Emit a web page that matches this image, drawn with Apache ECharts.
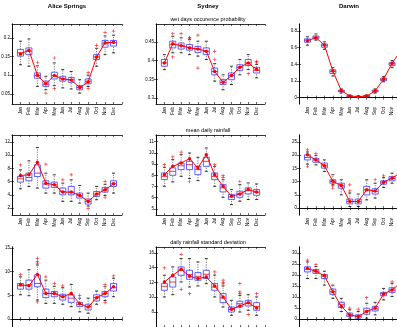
<!DOCTYPE html>
<html lang="en">
<head>
<meta charset="UTF-8">
<style>
    html, body { margin: 0; background: #fff; overflow: hidden; }
    #chart { width: 397px; height: 327px; }
</style>
</head>
<body>
<div id="chart"></div>
<script src="https://cdn.jsdelivr.net/npm/echarts@6/dist/echarts.min.js"></script>
<script>
    var months = ['Jan','Feb','Mar','Apr','May','Jun','Jul','Aug','Sep','Oct','Nov','Dec'];
    var stations = ['Alice Springs', 'Sydney', 'Darwin'];
    var statNames = ['wet days occurence probability', 'mean daily rainfall', 'daily rainfall standard deviation'];

    // box rows: [low whisker, q1, median, q3, high whisker]
    var aliceWetBox = [[0.128,0.151,0.160,0.169,0.191],[0.124,0.155,0.164,0.173,0.197],[0.070,0.092,0.099,0.106,0.125],[0.061,0.070,0.076,0.084,0.097],[0.072,0.090,0.099,0.108,0.133],[0.066,0.084,0.091,0.097,0.115],[0.063,0.081,0.088,0.094,0.110],[0.052,0.061,0.067,0.072,0.088],[0.070,0.077,0.084,0.090,0.100],[0.124,0.142,0.149,0.155,0.172],[0.155,0.175,0.184,0.193,0.205],[0.160,0.178,0.187,0.193,0.207]];
    var aliceWetObs = [0.157,0.167,0.100,0.077,0.099,0.090,0.087,0.067,0.082,0.149,0.187,0.188];
    var aliceWetOut = [[2,0.134],[3,0.052],[4,0.146],[4,0.064],[8,0.107],[8,0.064],[9,0.180],[10,0.214],[11,0.218]];

    var sydneyWetBox = [[0.376,0.385,0.394,0.403,0.416],[0.421,0.434,0.443,0.452,0.465],[0.421,0.431,0.440,0.447,0.461],[0.416,0.428,0.436,0.443,0.456],[0.412,0.422,0.431,0.438,0.452],[0.403,0.416,0.425,0.434,0.452],[0.345,0.362,0.371,0.380,0.392],[0.322,0.336,0.342,0.349,0.362],[0.336,0.349,0.360,0.367,0.385],[0.362,0.374,0.382,0.389,0.403],[0.376,0.387,0.394,0.403,0.416],[0.354,0.367,0.374,0.382,0.390]];
    var sydneyWetObs = [0.394,0.445,0.440,0.434,0.431,0.425,0.371,0.342,0.360,0.382,0.394,0.376];
    var sydneyWetOut = [[1,0.472],[1,0.410],[2,0.472],[3,0.462],[3,0.460],[4,0.468],[4,0.380],[6,0.425],[6,0.403],[10,0.365],[11,0.398],[11,0.396]];

    var darwinWetBox = [[0.63,0.665,0.69,0.705,0.73],[0.69,0.705,0.725,0.74,0.765],[0.58,0.605,0.625,0.645,0.67],[0.26,0.29,0.315,0.335,0.36],[0.055,0.07,0.08,0.09,0.105],[0.006,0.012,0.018,0.024,0.03],[0.004,0.008,0.012,0.016,0.022],[0.008,0.014,0.02,0.026,0.032],[0.055,0.07,0.08,0.09,0.105],[0.19,0.205,0.22,0.235,0.255],[0.36,0.385,0.405,0.42,0.445],[0.51,0.54,0.56,0.58,0.61]];
    var darwinWetObs = [0.684,0.72,0.632,0.32,0.084,0.02,0.012,0.02,0.08,0.224,0.412,0.56];
    var darwinWetOut = [];

    var aliceMeanBox = [[4.91,5.92,6.42,6.77,7.78],[5.27,6.12,6.62,7.28,9.14],[5.02,6.77,7.28,8.53,11.15],[4.26,5.02,5.62,6.12,7.28],[4.26,5.12,5.52,5.92,7.03],[3.01,4.01,4.51,5.02,5.77],[3.01,4.01,4.41,5.27,6.27],[2.75,3.51,3.91,4.26,5.42],[2.30,2.60,3.01,3.36,4.26],[3.26,3.76,4.11,4.51,5.27],[3.90,4.41,4.76,5.12,5.60],[4.26,5.27,5.67,6.12,7.28]];
    var aliceMeanObs = [6.92,7.03,8.93,5.77,5.52,4.41,4.41,3.91,3.01,4.11,4.76,5.67];
    var aliceMeanOut = [[0,8.53],[3,8.63],[5,6.27],[6,7.03],[8,1.95],[10,6.0],[10,3.6]];

    var sydneyMeanBox = [[7.02,7.62,7.91,8.21,8.72],[7.41,8.00,8.36,8.66,9.40],[7.91,8.51,8.86,9.10,9.84],[7.71,8.51,8.95,9.25,9.99],[7.53,8.06,8.51,8.80,9.61],[8.36,8.80,9.25,9.61,10.44],[7.02,7.62,7.91,8.21,8.80],[6.04,6.52,6.88,7.17,7.60],[5.39,5.84,6.07,6.28,6.73],[5.69,6.04,6.34,6.58,7.17],[5.84,6.34,6.64,6.88,7.32],[5.84,6.22,6.49,6.73,7.23]];
    var sydneyMeanObs = [8.06,8.80,9.10,9.49,8.66,9.84,8.06,7.02,6.13,6.34,6.73,6.52];
    var sydneyMeanOut = [[0,8.95],[1,9.64],[2,10.08],[3,7.45],[6,8.95],[7,7.97],[7,7.80],[9,7.45]];

    var darwinMeanBox = [[16.6,18.2,19.1,20.1,21.2],[16.3,17.3,18.2,18.8,19.8],[13.8,15.1,16.0,17.0,18.2],[8.8,9.4,10.1,10.7,12.6],[5.0,7.5,8.4,9.4,10.7],[0.6,1.6,2.5,3.4,5.7],[0.6,1.6,2.5,3.4,5.3],[3.1,5.0,6.9,8.2,10.7],[3.8,5.3,6.3,7.3,9.4],[7.8,9.0,9.8,10.3,11.5],[9.4,10.3,11.2,11.9,13.2],[11.2,12.5,13.3,14.2,15.5]];
    var darwinMeanObs = [20.1,18.2,16.0,10.1,8.5,2.5,2.5,6.9,6.5,9.8,11.3,13.5];
    var darwinMeanOut = [[0,22.0],[0,15.7],[1,20.6],[3,8.4],[3,7.5],[5,8.8],[5,6.5],[8,10.7],[9,12.2]];

    var aliceSdBox = [[5.1,6.3,7.0,7.5,8.9],[4.9,6.3,7.2,8.2,10.4],[4.0,6.8,7.5,9.3,11.4],[3.3,4.5,5.4,6.3,8.2],[3.3,4.7,5.3,5.8,6.9],[3.1,4.0,4.7,5.2,6.6],[2.6,3.5,4.4,5.1,7.3],[1.5,2.6,3.1,3.5,4.4],[1.2,1.9,2.6,3.1,4.4],[3.1,3.8,4.5,5.1,5.9],[3.9,4.7,5.4,5.8,6.8],[4.7,5.9,6.6,7.5,8.6]];
    var aliceSdObs = [7.2,7.0,9.4,5.4,5.4,4.7,5.4,3.2,2.5,4.5,5.4,6.8];
    var aliceSdOut = [[0,9.4],[2,12.8],[2,12.1],[2,11.8],[2,3.6],[3,8.9],[4,7.5],[5,7.0],[7,5.0],[10,7.3],[10,3.5],[11,9.1]];

    var sydneySdBox = [[10.03,10.93,11.48,11.84,12.97],[10.34,11.38,12.06,12.74,14.10],[12.06,12.97,13.65,14.10,15.23],[11.38,12.43,13.06,13.65,15.23],[11.52,12.29,12.83,13.33,14.78],[11.84,12.52,13.10,13.65,15.23],[10.03,10.93,11.38,11.84,13.00],[8.67,9.26,9.89,10.48,11.52],[7.54,7.99,8.35,8.67,9.57],[7.99,8.67,9.12,9.44,10.25],[8.22,8.81,9.21,9.57,10.34],[7.54,8.22,8.76,9.26,10.03]];
    var sydneySdObs = [12.06,12.97,13.78,12.83,12.52,12.74,11.52,10.03,8.35,8.81,9.26,8.53];
    var sydneySdOut = [[0,13.96],[2,15.77],[2,11.07],[3,10.48],[6,13.42],[7,12.3],[7,12.0],[7,11.8],[9,11.84],[9,10.71],[9,10.48],[10,7.67],[11,10.48]];

    var darwinSdBox = [[18.4,21.4,22.6,23.7,25.9],[18.4,20.7,21.7,22.5,23.8],[15.4,18.4,19.5,20.2,21.7],[9.4,11.2,12.4,13.6,15.4],[3.4,5.2,6.7,7.6,9.4],[0.4,1.2,1.9,2.7,4.2],[0,0.4,1.2,1.9,3.4],[0.4,2.2,3.7,4.9,7.2],[1.9,3.7,4.6,5.7,7.6],[8.7,10.6,11.5,12.1,13.9],[10.2,12.1,13.2,14.2,16.2],[13.5,15.5,16.3,17.2,19.0]];
    var darwinSdObs = [22.9,21.7,19.6,12.4,5.7,1.9,1.2,3.4,5.0,11.4,13.2,16.5];
    var darwinSdOut = [[0,26.7],[1,24.7],[5,5.0],[6,4.5],[7,9.7],[10,16.9]];

    // y extents and tick labels per panel (row by row)
    var yRanges = [[0.023,0.237],[0.284,0.498],[-0.076,0.884],
                   [0.95,13.05],[4.46,11.6],[-2.6,27.6],
                   [-1.7,15.2],[5.96,16.8],[-3.6,32.7]];
    var yTicks = [[0.05,0.1,0.15,0.2],[0.3,0.35,0.4,0.45],[0,0.2,0.4,0.6,0.8],
                  [2,4,6,8,10,12],[5,6,7,8,9,10,11],[0,5,10,15,20,25],
                  [0,5,10,15],[8,10,12,14,16],[0,5,10,15,20,25,30]];

    var panels = [
        [aliceWetBox, aliceWetObs, aliceWetOut], [sydneyWetBox, sydneyWetObs, sydneyWetOut], [darwinWetBox, darwinWetObs, darwinWetOut],
        [aliceMeanBox, aliceMeanObs, aliceMeanOut], [sydneyMeanBox, sydneyMeanObs, sydneyMeanOut], [darwinMeanBox, darwinMeanObs, darwinMeanOut],
        [aliceSdBox, aliceSdObs, aliceSdOut], [sydneySdBox, sydneySdObs, sydneySdOut], [darwinSdBox, darwinSdObs, darwinSdOut]
    ];

    var colLeft = [12, 156, 299], colWidth = [110, 109, 110];
    var rowTop = [24, 135, 247], rowHeight = 80;
    var titleX = [67, 208, 349];
    var font = 'Liberation Sans';
    var plus = 'path://M4,0H6V10H4Z M0,4H10V6H0Z';

    function renderBox(params, api) {
        var x = api.value(0);
        var lo = api.coord([x, api.value(1)]);
        var q1 = api.coord([x, api.value(2)]);
        var md = api.coord([x, api.value(3)]);
        var q3 = api.coord([x, api.value(4)]);
        var hi = api.coord([x, api.value(5)]);
        var w = 3, c = 1.5;
        var dash = {stroke: '#222', lineWidth: 0.6, lineDash: [1.2, 1.2]};
        var cap = {stroke: '#000', lineWidth: 0.8};
        return {
            type: 'group',
            children: [
                {type: 'line', shape: {x1: lo[0], y1: lo[1], x2: q1[0], y2: q1[1]}, style: dash},
                {type: 'line', shape: {x1: q3[0], y1: q3[1], x2: hi[0], y2: hi[1]}, style: dash},
                {type: 'line', shape: {x1: lo[0] - c, y1: lo[1], x2: lo[0] + c, y2: lo[1]}, style: cap},
                {type: 'line', shape: {x1: hi[0] - c, y1: hi[1], x2: hi[0] + c, y2: hi[1]}, style: cap},
                {type: 'rect', shape: {x: q3[0] - w, y: q3[1], width: 2 * w, height: q1[1] - q3[1]},
                    style: {fill: 'none', stroke: '#3a3aff', lineWidth: 0.8}},
                {type: 'line', shape: {x1: md[0] - w, y1: md[1], x2: md[0] + w, y2: md[1]},
                    style: {stroke: '#ff0000', lineWidth: 0.8}}
            ]
        };
    }

    var grid = [], xAxis = [], yAxis = [], series = [], title = [];

    stations.forEach(function (s, c) {
        title.push({text: s, left: titleX[c], top: 3, textAlign: 'center', padding: 0,
            textStyle: {fontFamily: font, fontSize: 6, fontWeight: 'bold', color: '#000'}});
    });
    statNames.forEach(function (s, r) {
        title.push({text: s, left: titleX[1], top: rowTop[r] - 8, textAlign: 'center', padding: 0,
            textStyle: {fontFamily: font, fontSize: 5.5, fontWeight: 'normal', color: '#000'}});
    });

    panels.forEach(function (p, i) {
        var r = Math.floor(i / 3), c = i % 3;
        grid.push({left: colLeft[c], top: rowTop[r], width: colWidth[c], height: rowHeight,
            containLabel: false, outerBoundsMode: 'none'});
        var axLine = {show: true, lineStyle: {color: '#000', width: 0.8}};
        var tick = {show: true, inside: true, length: 2, lineStyle: {color: '#000', width: 0.6}};
        xAxis.push({type: 'value', gridIndex: i, min: 0, max: 13, interval: 1, position: 'bottom',
            axisLine: axLine, axisTick: tick, splitLine: {show: false},
            axisLabel: {rotate: 90, margin: 3, fontSize: 4.5, fontFamily: font, color: '#000',
                formatter: function (v) { return months[v - 1] || ''; }}});
        xAxis.push({type: 'value', gridIndex: i, min: 0, max: 13, interval: 1, position: 'top',
            axisLine: axLine, axisTick: tick, splitLine: {show: false}, axisLabel: {show: false}});
        yAxis.push({type: 'value', gridIndex: i, min: yRanges[i][0], max: yRanges[i][1], position: 'left',
            axisLine: axLine, splitLine: {show: false},
            axisTick: Object.assign({customValues: yTicks[i]}, tick),
            axisLabel: {customValues: yTicks[i], margin: 2, fontSize: 4.5, fontFamily: font, color: '#000'}});
        yAxis.push({type: 'value', gridIndex: i, min: yRanges[i][0], max: yRanges[i][1], position: 'right',
            axisLine: axLine, splitLine: {show: false},
            axisTick: Object.assign({customValues: yTicks[i]}, tick),
            axisLabel: {show: false}});

        series.push({type: 'custom', xAxisIndex: 2 * i, yAxisIndex: 2 * i, renderItem: renderBox,
            encode: {x: 0, y: [1, 2, 3, 4, 5]},
            data: p[0].map(function (b, k) { return [k + 1].concat(b); })});
        series.push({type: 'scatter', xAxisIndex: 2 * i, yAxisIndex: 2 * i, symbol: plus, symbolSize: 3.5,
            itemStyle: {color: '#ff0000'}, z: 3,
            data: p[2].map(function (o) { return [o[0] + 1, o[1]]; })});
        series.push({type: 'line', xAxisIndex: 2 * i, yAxisIndex: 2 * i, symbol: 'circle', symbolSize: 3.5,
            lineStyle: {color: '#ff0000', width: 1}, itemStyle: {color: '#ff0000'}, z: 4,
            data: p[1].map(function (v, k) { return [k + 1, v]; })});
    });

    var myChart = echarts.init(document.getElementById('chart'));
    myChart.setOption({
        animation: false,
        backgroundColor: '#fff',
        title: title,
        grid: grid,
        xAxis: xAxis,
        yAxis: yAxis,
        series: series
    });
</script>
</body>
</html>
